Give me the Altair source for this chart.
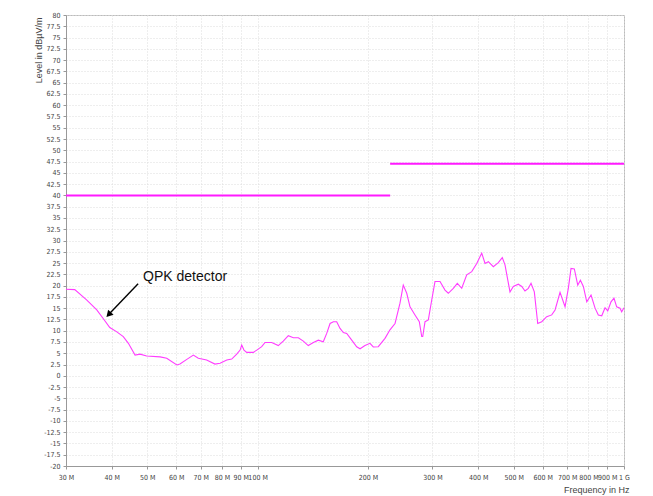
import altair as alt
import pandas as pd

# Measured QPK curve (frequency in MHz, level in dBµV/m)
freq_mhz = [30.0, 31.7, 34.2, 36.4, 37.9, 39.5, 41.2, 43.0, 44.4, 46.3, 47.8, 49.8,
            54.2, 56.5, 60.2, 61.4, 64.1, 66.8, 68.9, 72.6, 76.5, 79.0, 82.4, 85.0,
            87.7, 89.6, 90.5, 91.8, 93.4, 97.4, 99.5, 102.6, 104.8, 109.3, 113.9, 117.5,
            121.3, 125.2, 129.2, 133.3, 137.5, 142.0, 146.5, 151.1, 154.4, 157.7, 161.0,
            164.4, 167.9, 171.4, 175.1, 180.7, 186.4, 190.4, 196.4, 202.7, 206.9, 213.5,
            222.7, 229.8, 237.2, 244.7, 249.8, 255.3, 260.6, 268.9, 276.3, 280.5, 282.3,
            286.4, 292.4, 298.7, 304.9, 314.7, 324.7, 331.5, 342.1, 350.8, 360.7, 372.2,
            384.1, 396.4, 409.0, 417.6, 426.4, 439.9, 453.9, 465.4, 473.4, 488.5, 498.8,
            514.7, 526.0, 536.8, 548.1, 557.5, 569.2, 581.5, 596.3, 615.3, 635.0, 648.4,
            669.0, 690.4, 704.8, 716.8, 731.9, 747.8, 760.3, 774.6, 791.4, 812.9, 833.7,
            851.0, 869.5, 887.7, 902.8, 921.7, 939.0, 955.1, 975.3, 985.6, 1000.0]
level_db = [19.2, 19.1, 16.8, 14.6, 12.7, 10.7, 9.8, 8.7, 7.2, 4.6, 4.8, 4.4,
            4.2, 3.9, 2.4, 2.6, 3.65, 4.6, 3.9, 3.5, 2.6, 2.8, 3.5, 3.7,
            4.8, 5.7, 6.8, 5.7, 5.2, 5.2, 5.7, 6.45, 7.4, 7.4, 6.7, 7.7,
            8.9, 8.45, 8.45, 7.7, 6.7, 7.4, 7.9, 7.55, 9.4, 11.6, 12.0,
            12.0, 10.5, 9.6, 9.4, 7.9, 6.45, 6.0, 6.7, 7.2, 6.4, 6.45,
            8.3, 10.2, 11.6, 16.1, 20.1, 18.3, 15.3, 13.5, 12.0, 8.7, 8.7,
            12.0, 12.4, 16.8, 20.9, 20.9, 19.0, 18.3, 19.4, 20.5, 19.4, 22.4,
            23.1, 24.9, 27.2, 24.9, 25.3, 24.2, 25.1, 26.2, 24.6, 18.6, 19.8,
            20.3, 19.8, 18.8, 19.4, 20.5, 18.6, 11.6, 12.0, 13.1, 13.5, 14.6,
            18.5, 15.3, 19.4, 23.8, 23.7, 20.1, 21.2, 19.8, 16.4, 17.9, 15.0,
            13.5, 13.3, 15.1, 14.4, 16.4, 17.2, 15.3, 15.0, 14.2, 15.1]

# Limit lines
limit_start = [30.0, 230.0]
limit_end = [230.0, 1000.0]
limit_level = [40.0, 47.0]

# Axis ticks
x_ticks = [30, 40, 50, 60, 70, 80, 90, 100, 200, 300, 400, 500, 600, 700, 800, 900, 1000]
y_ticks = [-20 + 2.5 * i for i in range(41)]

# Annotation
note_text = ["QPK detector"]
note_f = [48.7]
note_level = [21.9]
arrow_f = [47.2]
arrow_level = [20.4]
arrow_tip_f = [39.4]
arrow_tip_level = [13.75]

curve = pd.DataFrame({"f": freq_mhz, "level": level_db})
limits = pd.DataFrame({"f": limit_start, "f2": limit_end, "level": limit_level})
note = pd.DataFrame({"f": note_f, "level": note_level, "t": note_text})
arrow = pd.DataFrame({"f": arrow_f, "f2": arrow_tip_f, "level": arrow_level, "level2": arrow_tip_level})
head = pd.DataFrame({"f": arrow_tip_f, "level": arrow_tip_level})

xscale = alt.Scale(type="log", domain=[30, 1000], nice=False)
yscale = alt.Scale(domain=[-20, 80], nice=False, zero=False)

LABEL_FONT = "Liberation Sans Narrow, DejaVu Sans Condensed, sans-serif"

xaxis = alt.Axis(values=x_ticks, labelExpr="datum.value >= 1000 ? '1 G' : datum.value + ' M'",
                 title="Frequency in Hz", titleAnchor="end", titleAlign="right",
                 titleX=563, titleY=23, titleBaseline="middle",
                 labelPadding=4, labelFlush=False, labelOverlap=False,
                 labelFont=LABEL_FONT, labelFontSize=7)
yaxis = alt.Axis(values=y_ticks, labelExpr="datum.value + ''",
                 title="Level in dBµV/m", titleAngle=-90, titleAlign="right",
                 titleBaseline="middle", titleX=-28, titleY=2,
                 labelPadding=3, labelOverlap=False,
                 labelFont=LABEL_FONT, labelFontSize=7)

X = alt.X("f:Q", scale=xscale, axis=xaxis)
Y = alt.Y("level:Q", scale=yscale, axis=yaxis)

line = alt.Chart(curve).mark_line(color="#ff3dff", strokeWidth=1.1).encode(x=X, y=Y, order="f:Q")
lim = alt.Chart(limits).mark_rule(color="#ff1aff", strokeWidth=2).encode(x=X, x2="f2:Q", y=Y)
arr = alt.Chart(arrow).mark_rule(color="black", strokeWidth=1.4).encode(x=X, x2="f2:Q", y=Y, y2="level2:Q")
arrhead = alt.Chart(head).mark_point(shape="triangle", filled=True, color="black", size=55,
                                     angle=223, opacity=1).encode(x=X, y=Y)
txt = alt.Chart(note).mark_text(align="left", baseline="middle", fontSize=14,
                                font="Liberation Sans", color="#111").encode(x=X, y=Y, text="t:N")

chart = alt.layer(lim, line, arr, arrhead, txt).properties(
    width=558, height=451,
    autosize=alt.AutoSizeParams(type="none"),
    padding={"left": 58, "top": 7, "right": 15, "bottom": 29},
    background="white",
).configure_view(stroke="#bbbbbb", strokeWidth=1).configure_axis(
    domainColor="#999999", tickColor="#999999", tickSize=3,
    labelColor="#444444",
    titleFontSize=9, titleFontWeight="normal", titleColor="#444444", titleFont="Liberation Sans",
    gridColor="#dcdcdc", gridDash=[1, 2], grid=True,
)

chart.save("out.html", embed_options={"renderer": "svg", "actions": False})
